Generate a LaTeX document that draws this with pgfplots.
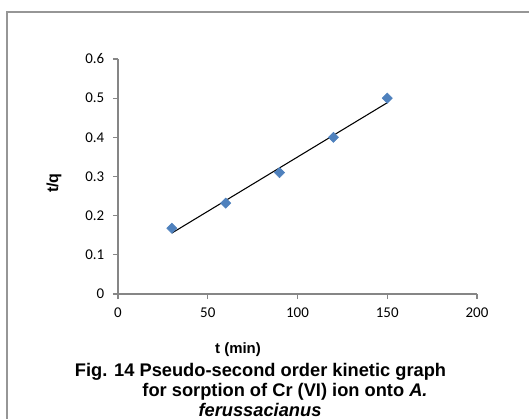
\documentclass[border=0pt]{standalone}
\usepackage{pgfplots}
\usepackage{pgfplotstable}
\pgfplotsset{compat=1.18}
\usepackage{fontspec}
\setmainfont{Liberation Sans}
\newfontfamily\calibri{Carlito}
\definecolor{excelblue}{RGB}{79,129,189}
\definecolor{axgray}{RGB}{134,134,134}
\definecolor{framegray}{RGB}{150,150,150}

\pgfplotstableread{
t tq
30 0.168
60 0.232
90 0.310
120 0.400
150 0.500
}\datatable

\begin{document}
\begin{tikzpicture}
\useasboundingbox (0,0) rectangle (396.75pt,-314.25pt);
\draw[framegray, line width=0.8pt] (396.75pt,-9pt) -- (5.25pt,-9pt) -- (5.25pt,-314.25pt);
\begin{axis}[
  at={(88.5pt,-220.5pt)}, anchor=south west,
  scale only axis, width=269.25pt, height=176.25pt,
  xmin=0, xmax=200, ymin=0, ymax=0.6,
  axis lines=left,
  axis line style={-, axgray, line width=0.9pt},
  xtick={0,50,100,150,200},
  ytick={0,0.1,0.2,0.3,0.4,0.5,0.6},
  tick align=outside,
  major tick length=3.75pt,
  tick style={axgray, line width=0.9pt},
  ticklabel style={font=\calibri\fontsize{11.2}{13}\selectfont},
  /pgf/number format/assume math mode=true,
  yticklabel style={/pgf/number format/.cd, fixed, precision=1, /tikz/.cd, xshift=-3pt},
  xticklabel style={yshift=-3pt},
  clip=false,
]
\addplot[only marks, mark=square*, mark size=2.7pt, mark options={rotate=45, excelblue, fill=excelblue}]
  table[x=t, y=tq] {\datatable};
\addplot[black, line width=0.8pt, no marks]
  table[x=t, y={create col/linear regression={y=tq}}] {\datatable};
\end{axis}
\node[font=\bfseries\fontsize{12}{14}\selectfont, rotate=90] at (40.5pt,-137.25pt) {t/q};
\node[font=\bfseries\fontsize{11.2}{13}\selectfont] at (178.5pt,-262pt) {t (min)};
\node[font=\bfseries\fontsize{13.7}{15}\selectfont] at (195.4pt,-279pt) {Fig. 14 Pseudo-second order kinetic graph};
\node[font=\bfseries\fontsize{13.7}{15}\selectfont] at (213.75pt,-294pt) {for sorption of Cr (VI) ion onto \textit{A.}};
\node[font=\bfseries\fontsize{13.7}{15}\selectfont] at (195pt,-307.5pt) {\textit{ferussacianus}};
\end{tikzpicture}
\end{document}
